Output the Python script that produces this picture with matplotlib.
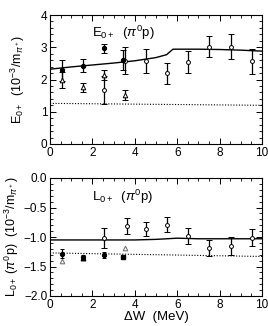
import matplotlib
matplotlib.use("Agg")
import matplotlib.pyplot as plt
from matplotlib.ticker import MultipleLocator

plt.rcParams['font.family'] = ['Liberation Sans', 'DejaVu Sans']
plt.rcParams['mathtext.fontset'] = 'custom'
plt.rcParams['mathtext.rm'] = 'Liberation Sans'
plt.rcParams['mathtext.it'] = 'Liberation Sans:italic'
plt.rcParams['mathtext.bf'] = 'Liberation Sans:bold'

# ---------------- E0+ panel data ----------------
e_fill_x = [0.55, 1.55, 2.55, 3.45]
e_fill_y = [2.29, 2.43, 2.97, 2.60]
e_fill_err = [0.33, 0.21, 0.14, 0.31]

e_tri_x = [0.55, 1.55, 2.55, 3.55]
e_tri_y = [1.98, 1.76, 2.14, 1.52]
e_tri_err = [0.25, 0.14, 0.15, 0.16]

e_open_x = [2.55, 3.55, 4.52, 5.52, 6.52, 7.52, 8.52, 9.52]
e_open_y = [1.67, 2.58, 2.58, 2.19, 2.53, 3.02, 3.02, 2.57]
e_open_err = [0.44, 0.42, 0.38, 0.32, 0.34, 0.33, 0.38, 0.39]

e_line_x = [0.0, 1.0, 2.0, 3.0, 4.0, 5.0, 5.5, 5.8, 7.0, 8.0, 9.0, 10.0]
e_line_y = [2.32, 2.39, 2.45, 2.51, 2.58, 2.68, 2.77, 2.94, 2.94, 2.93, 2.91, 2.88]
e_dot_x = [0.0, 10.0]
e_dot_y = [1.26, 1.20]

# ---------------- L0+ panel data ----------------
l_fill_x = [0.55, 1.55, 2.55]
l_fill_y = [-1.28, -1.34, -1.31]
l_fill_err = [0.07, 0.03, 0.05]

l_tri_fill_x = [1.55]
l_tri_fill_y = [-1.35]

l_sq_x = [3.45]
l_sq_y = [-1.34]

l_tri_x = [0.55, 3.55]
l_tri_y = [-1.40, -1.19]

l_open_x = [2.55, 3.62, 4.52, 5.52, 6.52, 7.52, 8.52, 9.52]
l_open_y = [-1.02, -0.81, -0.87, -0.79, -0.98, -1.19, -1.15, -1.01]
l_open_err = [0.17, 0.14, 0.12, 0.13, 0.14, 0.14, 0.15, 0.15]

l_line_x = [0.0, 2.0, 4.0, 5.0, 6.0, 7.0, 8.0, 9.0, 10.0]
l_line_y = [-1.05, -1.05, -1.05, -1.04, -1.02, -1.03, -1.03, -1.03, -1.03]
l_dot_x = [0.0, 10.0]
l_dot_y = [-1.27, -1.33]

x_ticks = [0, 2, 4, 6, 8, 10]

W, H = 268, 326
fig = plt.figure(figsize=(W / 100, H / 100), dpi=100)
ax1 = fig.add_axes([50 / W, 1 - 144 / H, 212 / W, 129 / H])
ax2 = fig.add_axes([50 / W, 1 - 296 / H, 212 / W, 118 / H])

gray = '#777777'
ms = 2.8

def style(ax):
    ax.tick_params(which='both', direction='in', top=True, right=True, labelsize=8.5, pad=2)
    ax.tick_params(which='major', length=4, width=0.7)
    ax.tick_params(which='minor', length=2, width=0.6)
    for s in ax.spines.values():
        s.set_linewidth(0.8)
    ax.set_xlim(0, 10)
    ax.set_xticks(x_ticks)
    ax.xaxis.set_minor_locator(MultipleLocator(0.5))

eb = dict(mew=0.7, elinewidth=0.9, capsize=2, capthick=0.9)

# ---- top panel ----
ax1.plot(e_line_x, e_line_y, color='black', lw=1.0)
ax1.plot(e_dot_x, e_dot_y, color='black', lw=0.8, ls=(0, (1, 1.5)))
ax1.errorbar(e_open_x, e_open_y, yerr=e_open_err, fmt='o', mfc='white', mec='black',
             ecolor='black', ms=ms, **eb)
ax1.errorbar(e_tri_x, e_tri_y, yerr=e_tri_err, fmt='^', mfc='white', mec='black',
             ecolor='black', ms=ms + 0.5, **eb)
ax1.errorbar(e_fill_x, e_fill_y, yerr=e_fill_err, fmt='o', mfc='black', mec='black',
             ecolor='black', ms=ms + 0.3, **eb)
ax1.set_ylim(0, 4)
ax1.set_yticks([0, 1, 2, 3, 4])
ax1.yaxis.set_minor_locator(MultipleLocator(0.2))
style(ax1)
ax1.text(0.2, 0.93, r'E$_{\mathregular{0+}}$  ($\pi^{\mathregular{0}}$p)', transform=ax1.transAxes,
         fontsize=9.5, va='top', ha='left')
ax1.set_ylabel(r'E$_{\mathregular{0+}}$  (10$^{\mathregular{-3}}$/m$_{\pi^+}$)', fontsize=9, labelpad=10)

# ---- bottom panel ----
ax2.plot(l_line_x, l_line_y, color='black', lw=1.0)
ax2.plot(l_dot_x, l_dot_y, color='black', lw=0.8, ls=(0, (1, 1.5)))
ax2.errorbar(l_open_x, l_open_y, yerr=l_open_err, fmt='o', mfc='white', mec='black',
             ecolor='black', ms=ms, **eb)
ax2.plot(l_tri_x, l_tri_y, '^', mfc='white', mec=gray, ms=ms + 0.5, mew=0.8)
ax2.errorbar(l_fill_x, l_fill_y, yerr=l_fill_err, fmt='o', mfc='black', mec='black',
             ecolor='black', ms=ms + 0.3, mew=0.7, elinewidth=0.9, capsize=1.5, capthick=0.9)
ax2.plot(l_tri_fill_x, l_tri_fill_y, '^', color='black', ms=ms + 0.5)
ax2.plot(l_sq_x, l_sq_y, 's', color='black', ms=ms)
ax2.set_ylim(-2.0, 0.0)
ax2.set_yticks([-2.0, -1.5, -1.0, -0.5, 0.0])
ax2.set_yticklabels(['\u22122.0', '\u22121.5', '\u22121.0', '\u22120.5', '0.0'])
ax2.yaxis.set_minor_locator(MultipleLocator(0.1))
style(ax2)
ax2.text(0.2, 0.92, r'L$_{\mathregular{0+}}$  ($\pi^{\mathregular{0}}$p)', transform=ax2.transAxes,
         fontsize=9.5, va='top', ha='left')
ax2.set_ylabel(r'L$_{\mathregular{0+}}$ ($\pi^{\mathregular{0}}$p)  (10$^{\mathregular{-3}}$/m$_{\pi^+}$)',
               fontsize=9, labelpad=2)
ax2.set_xlabel('\u0394W  (MeV)', fontsize=9.5, labelpad=0)

fig.savefig('out.png', dpi=100)
